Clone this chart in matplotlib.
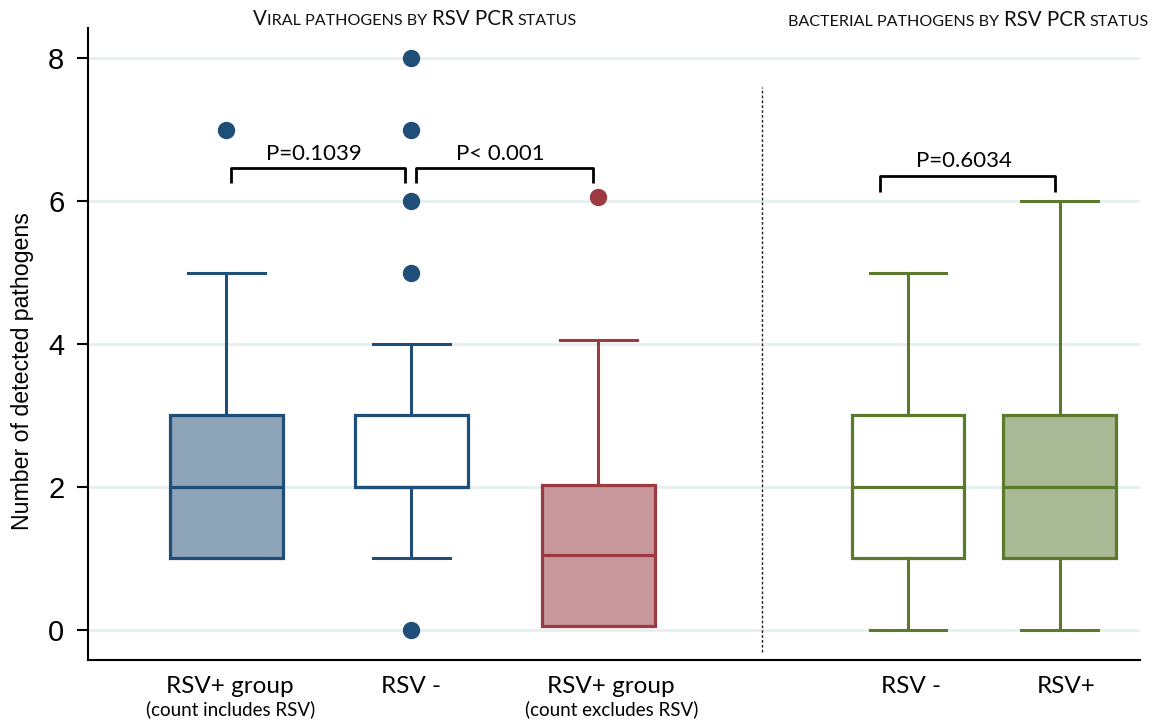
import matplotlib
matplotlib.use("Agg")
import matplotlib.pyplot as plt
import numpy as np

# ---------------- data ----------------
groups = ["RSV+ group", "RSV -", "RSV+ group", "RSV -", "RSV+"]
sublabels = ["(count includes RSV)", "", "(count excludes RSV)", "", ""]
q1 = [1, 2, 0.05, 1, 1]
med = [2, 2, 1.05, 2, 2]
q3 = [3, 3, 2.03, 3, 3]
whislo = [1, 1, 0.05, 0, 0]
whishi = [5, 4, 4.05, 5, 6]
fliers = [[7], [0, 5, 6, 7, 8], [6.05], [], []]
p_labels = ["P=0.1039", "P< 0.001", "P=0.6034"]
yticks = [0, 2, 4, 6, 8]
# small-caps titles: (text, is_big)
title_left = [("V", True), ("IRAL PATHOGENS BY", False), ("RSV PCR", True), ("STATUS", False)]
title_right = [("BACTERIAL PATHOGENS BY", False), ("RSV PCR", True), ("STATUS", False)]

# ---------------- layout / style ----------------
positions = [1.0, 2.0, 3.01, 4.684, 5.505]
label_x = [1.02, 2.0, 3.08, 4.70, 5.54]
edge_cols = ["#1F4E79", "#1F4E79", "#9B3A40", "#5B7A2E", "#5B7A2E"]
face_cols = ["#8DA3B8", "#FFFFFF", "#C8989C", "#FFFFFF", "#A9B995"]
CAL = ["Lato", "DejaVu Sans"]
ARI = ["Liberation Sans", "DejaVu Sans"]

W, H = 1174, 721
fig = plt.figure(figsize=(W / 100, H / 100), dpi=100)
ax = fig.add_axes([88 / W, 1 - 660 / H, (1140 - 88) / W, (660 - 28) / H])
ax.set_xlim(0.2515, 5.938)
ax.set_ylim(-0.42, 8.42)

for s in ["top", "right"]:
    ax.spines[s].set_visible(False)
ax.spines["left"].set_linewidth(1.5)
ax.spines["bottom"].set_linewidth(1.5)
ax.set_yticks(yticks)
ax.set_yticklabels([str(v) for v in yticks], fontfamily=ARI, fontsize=21)
ax.tick_params(axis="y", length=8, width=1.5, pad=9)
ax.tick_params(axis="x", length=0, labelbottom=False)
for v in yticks:
    ax.axhline(v, color="#E6EFEF", lw=2, zorder=0)

stats = []
for i in range(len(groups)):
    stats.append(dict(med=med[i], q1=q1[i], q3=q3[i], whislo=whislo[i],
                      whishi=whishi[i], fliers=fliers[i], label=groups[i]))

for i, st in enumerate(stats):
    ec = edge_cols[i]
    ax.bxp([st], positions=[positions[i]], widths=0.61, capwidths=0.416,
           patch_artist=True, manage_ticks=False,
           boxprops=dict(facecolor=face_cols[i], edgecolor=ec, linewidth=2.3),
           medianprops=dict(color=ec, linewidth=2.3),
           whiskerprops=dict(color=ec, linewidth=2.2),
           capprops=dict(color=ec, linewidth=2.2),
           flierprops=dict(marker="o", markerfacecolor=ec, markeredgecolor=ec,
                           markersize=11.5))

# divider
ax.plot([3.895, 3.895], [-0.31, 7.59], color="#222222", lw=1, ls=(0, (2, 1.5)))

# brackets
br = [(1.024, 1.965, 6.46, 6.25), (2.024, 2.98, 6.46, 6.25), (4.53, 5.48, 6.35, 6.13)]
txt_y = [6.58, 6.58, 6.47]
for (x1, x2, yt, yb), lab, ty in zip(br, p_labels, txt_y):
    ax.plot([x1, x1, x2, x2], [yb, yt, yt, yb], color="black", lw=2,
            solid_joinstyle="round", solid_capstyle="butt")
    ax.text((x1 + x2) / 2 - 0.02, ty, lab, ha="center", va="baseline",
            fontfamily=CAL, fontsize=16)

# x labels
xt = ax.get_xaxis_transform()
for i in range(len(groups)):
    ax.annotate(groups[i], (label_x[i], 0), xycoords=xt, xytext=(0, -33),
                textcoords="offset pixels", ha="center", va="baseline",
                fontfamily=CAL, fontsize=17.5, annotation_clip=False)
    if sublabels[i]:
        ax.annotate(sublabels[i], (label_x[i], 0), xycoords=xt, xytext=(0, -55),
                    textcoords="offset pixels", ha="center", va="baseline",
                    fontfamily=CAL, fontsize=13.5, annotation_clip=False)

# y label
fig.text(23 / W, 1 - 371 / H, "Number of detected pathogens", rotation=90,
         ha="center", va="center", fontfamily=ARI, fontsize=16.7)

# small-caps titles
renderer = fig.canvas.get_renderer()
BIG, SMALL = 14.8, 11.6


def smallcaps(pieces, xc, ybase):
    arts = []
    widths = []
    gaps = []
    for k, (t, big) in enumerate(pieces):
        a = fig.text(0, 0, t, fontfamily=CAL, fontsize=BIG if big else SMALL,
                     ha="left", va="baseline", color="#111111")
        arts.append(a)
        widths.append(a.get_window_extent(renderer).width)
    for k in range(len(pieces) - 1):
        nxt_big = pieces[k + 1][1]
        if k == 0 and len(pieces[0][0]) == 1:
            gaps.append(0.5)
        else:
            gaps.append(0.24 * (BIG if nxt_big else SMALL) * 100 / 72)
    total = sum(widths) + sum(gaps)
    x = xc - total / 2
    for k, a in enumerate(arts):
        a.set_position((x / W, 1 - ybase / H))
        x += widths[k] + (gaps[k] if k < len(gaps) else 0)


smallcaps(title_left, 415, 25)
smallcaps(title_right, 968, 26)

fig.savefig("out.png", dpi=100)
